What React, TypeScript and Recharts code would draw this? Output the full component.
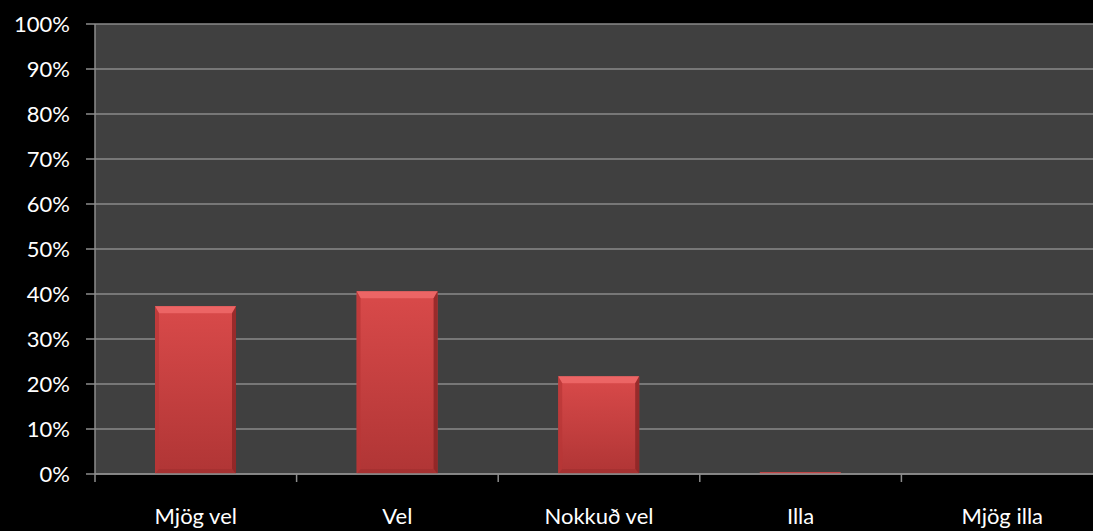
import React from "react";
import { BarChart, Bar, XAxis, YAxis, CartesianGrid } from "recharts";

const categories = ["Mjög vel", "Vel", "Nokkuð vel", "Illa", "Mjög illa"];
const values = [37.3, 40.6, 21.7, 0.4, 0];
const yTicks = [0, 10, 20, 30, 40, 50, 60, 70, 80, 90, 100];

const data = categories.map((name, i) => ({ name, value: values[i] }));

const CHART_W = 1103;
const CHART_H = 531;
const Y_AXIS_W = 95;
const MARGIN = { top: 24, right: 0, bottom: 0, left: 0 };
const BAND = (CHART_W - Y_AXIS_W - MARGIN.left - MARGIN.right) / categories.length;
const FONT = "Lato, 'Open Sans', sans-serif";

const BevelBar = (props: any) => {
  const { x, y, width, height } = props;
  if (!height || height <= 0) return null;
  if (height < 4) {
    return <rect x={x} y={y} width={width} height={Math.max(height, 1.5)} fill="#e04646" />;
  }
  const b = Math.min(7, height / 2);
  const s = Math.min(4, width / 2);
  const bb = Math.min(5, height / 2);
  return (
    <g>
      <rect x={x} y={y} width={width} height={height} fill="url(#barGrad)" />
      <polygon
        points={`${x},${y} ${x + width},${y} ${x + width - s},${y + b} ${x + s},${y + b}`}
        fill="#f06a6a"
        opacity={0.85}
      />
      <polygon
        points={`${x},${y} ${x + s},${y + b} ${x + s},${y + height - bb} ${x},${y + height}`}
        fill="#b83636"
        opacity={0.7}
      />
      <polygon
        points={`${x + width},${y} ${x + width - s},${y + b} ${x + width - s},${y + height - bb} ${x + width},${y + height}`}
        fill="#8a2424"
        opacity={0.8}
      />
      <polygon
        points={`${x},${y + height} ${x + s},${y + height - bb} ${x + width - s},${y + height - bb} ${x + width},${y + height}`}
        fill="#9e2e2e"
        opacity={0.6}
      />
    </g>
  );
};

const XTick = (props: any) => {
  const { x, y, payload, index } = props;
  const axisY = y - 34;
  return (
    <g>
      <line x1={x - BAND / 2} x2={x - BAND / 2} y1={axisY} y2={axisY + 8} stroke="#8c8c8c" strokeWidth={1.5} />
      {index === categories.length - 1 && (
        <line x1={x + BAND / 2} x2={x + BAND / 2} y1={axisY} y2={axisY + 8} stroke="#8c8c8c" strokeWidth={1.5} />
      )}
      <text x={x} y={y} dy="0.71em" textAnchor="middle" fill="#ffffff" fontSize={22} fontFamily={FONT}>
        {payload.value}
      </text>
    </g>
  );
};

export default function App() {
  return (
    <div
      style={{
        position: "absolute",
        left: 0,
        top: 0,
        width: 1093,
        height: 531,
        overflow: "hidden",
        background: "#000000",
      }}
    >
      <BarChart width={CHART_W} height={CHART_H} data={data} margin={MARGIN} barSize={81}>
        <defs>
          <linearGradient id="barGrad" x1="0" y1="0" x2="0" y2="1">
            <stop offset="0%" stopColor="#d94a4a" />
            <stop offset="100%" stopColor="#b03535" />
          </linearGradient>
        </defs>
        <CartesianGrid vertical={false} stroke="#8a8a8a" strokeWidth={1.5} fill="#404040" fillOpacity={1} />
        <XAxis
          dataKey="name"
          axisLine={{ stroke: "#8c8c8c", strokeWidth: 1.5 }}
          tickLine={false}
          tickSize={8}
          tickMargin={26}
          height={CHART_H - MARGIN.top - 450}
          tick={<XTick />}
          interval={0}
        />
        <YAxis
          width={Y_AXIS_W}
          domain={[0, 100]}
          ticks={yTicks}
          interval={0}
          tickFormatter={(v: number) => `${v}%`}
          axisLine={{ stroke: "#8c8c8c", strokeWidth: 1.5 }}
          tickLine={{ stroke: "#8c8c8c", strokeWidth: 1.5 }}
          tickSize={9}
          tickMargin={16}
          tick={{ fill: "#ffffff", fontSize: 22, fontFamily: FONT }}
        />
        <Bar dataKey="value" shape={<BevelBar />} isAnimationActive={false} />
      </BarChart>
    </div>
  );
}
